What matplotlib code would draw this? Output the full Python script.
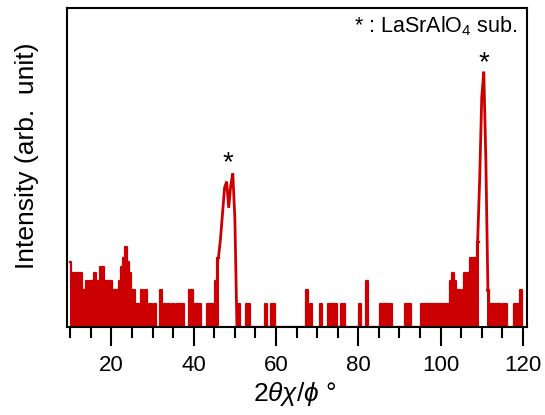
import numpy as np
import matplotlib
matplotlib.use('Agg')
import matplotlib.pyplot as plt
from matplotlib.ticker import MultipleLocator, NullLocator

# ---- data (counts, 0.5 deg bins from 10 to 120) ----
two_theta = np.arange(10.0, 120.01, 0.5)
counts = np.array([
    6, 3, 4, 4, 4, 4, 2, 2, 3, 3,          # 10 - 14.5
    3, 3, 4, 3, 3, 5, 5, 2, 3, 3,          # 15 - 19.5
    3, 2, 2, 2, 3, 5, 7, 10, 6, 4,         # 20 - 24.5
    2, 2, 1, 1, 1, 2, 1, 2, 1, 1,          # 25 - 29.5
    0, 1, 0, 0, 2, 1, 1, 1, 1, 0,          # 30 - 34.5
    1, 0, 1, 1, 1, 1, 0, 0, 2, 2,          # 35 - 39.5
    1, 1, 1, 1, 0, 0, 0, 1, 1, 1,          # 40 - 44.5
    1, 3, 7, 13, 30, 65, 78, 35, 70, 100,  # 45 - 49.5
    25, 0, 1, 0, 0, 0, 1, 1, 0, 0,         # 50 - 54.5
    0, 0, 0, 0, 0, 1, 0, 0, 1, 1,          # 55 - 59.5
    0, 0, 0, 0, 0, 0, 0, 0, 0, 0,          # 60 - 64.5
    0, 0, 0, 0, 0, 2, 0, 1, 0, 0,          # 65 - 69.5
    0, 0, 1, 0, 0, 0, 1, 1, 1, 1,          # 70 - 74.5
    0, 0, 1, 1, 0, 0, 0, 0, 0, 0,          # 75 - 79.5
    0, 1, 0, 0, 3, 0, 0, 0, 0, 0,          # 80 - 84.5
    0, 1, 1, 1, 1, 1, 1, 0, 0, 0,          # 85 - 89.5
    0, 0, 0, 1, 1, 1, 0, 0, 0, 0,          # 90 - 94.5
    0, 1, 1, 1, 1, 1, 1, 1, 1, 1,          # 95 - 99.5
    1, 1, 1, 1, 1, 3, 4, 3, 2, 2,          # 100 - 104.5
    1, 2, 4, 4, 4, 7, 7, 7, 12, 85,        # 105 - 109.5
    1000, 2150, 150, 2, 1, 1, 1, 1, 1, 1,  # 110 - 114.5
    0, 1, 1, 0, 0, 0, 1, 1, 1, 2,          # 115 - 119.5
    0,                                     # 120
])
peak_marks_x = [48.4, 110.6]
peak_marks_y = [110, 2250]
xticks_major = [20, 40, 60, 80, 100, 120]

red = '#cc0000'

plt.rcParams['font.family'] = ['Liberation Sans', 'DejaVu Sans']
plt.rcParams['mathtext.fontset'] = 'custom'
plt.rcParams['mathtext.rm'] = 'Liberation Sans'
plt.rcParams['mathtext.it'] = 'Liberation Sans:italic'
plt.rcParams['mathtext.bf'] = 'Liberation Sans:bold'

fig = plt.figure(figsize=(5.45, 4.15), dpi=100)
ax = fig.add_axes([67 / 545, 1 - 327 / 415, 460 / 545, 319 / 415])

y = counts + 1.0
core = counts > 12
near = core | np.roll(core, 1) | np.roll(core, -1)

# noise: filled steps
fill_top = np.where(counts <= 12, counts, 0) + 1.0
ax.fill_between(two_theta, 1, fill_top, step='mid', color=red, lw=0)
y_step = np.where(core, np.nan, y)
ax.plot(two_theta, y_step, drawstyle='steps-mid', color=red, lw=1.6)
# peaks: plain line
y_peak = np.where(near, y, np.nan)
ax.plot(two_theta, y_peak, color=red, lw=2.0, solid_joinstyle='miter')

ax.set_yscale('log')
ax.set_ylim(1, 14600)
ax.set_xlim(9.2, 121)
ax.yaxis.set_major_locator(NullLocator())
ax.yaxis.set_minor_locator(NullLocator())
ax.set_xticks(xticks_major)
ax.xaxis.set_minor_locator(MultipleLocator(5))
ax.tick_params(axis='x', which='major', direction='out', length=14, width=1.5,
               labelsize=16, pad=6.5)
ax.tick_params(axis='x', which='minor', direction='out', length=8, width=1.5)
for s in ax.spines.values():
    s.set_linewidth(1.5)

for xm, ym in zip(peak_marks_x, peak_marks_y):
    ax.text(xm, ym, '*', ha='center', va='baseline', fontsize=20)

ax.text(0.98, 0.944, '* : LaSrAlO$_4$ sub.', transform=ax.transAxes,
        ha='right', va='center', fontsize=15.5)

fig.text(295 / 545, 1 - 394 / 415, r'$2\theta\chi/\phi$ °', ha='center', va='center', fontsize=19)
fig.text(27 / 545, 1 - 156 / 415, 'Intensity (arb.  unit)', rotation=90,
         ha='center', va='center', fontsize=19)

fig.savefig('out.png', dpi=100)
